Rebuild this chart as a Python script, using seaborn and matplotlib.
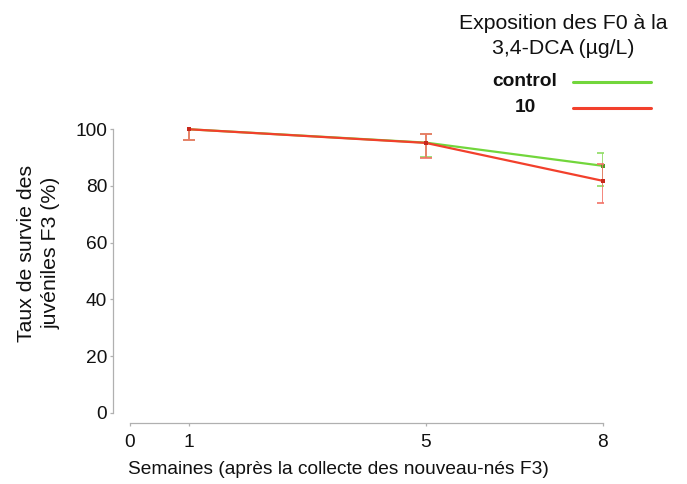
import matplotlib
matplotlib.use("Agg")
import matplotlib.pyplot as plt
from matplotlib.lines import Line2D
import numpy as np
import pandas as pd
import seaborn as sns

# Survival of F3 juveniles over weeks, by F0 exposure group
weeks = [1, 5, 8]
groups = ["control", "10"]
control_mean = [100.0, 95.3, 87.1]
control_err_low = [3.9, 5.2, 7.1]
control_err_high = [3.9, 3.2, 4.7]
dca10_mean = [100.0, 95.2, 81.8]
dca10_err_low = [3.9, 5.2, 7.9]
dca10_err_high = [3.9, 3.2, 5.8]

x_ticks = [0, 1, 5, 8]
y_ticks = [0, 20, 40, 60, 80, 100]

palette = {"control": "#72d63c", "10": "#f2402c"}
err_palette = {"control": "#8edc62", "10": "#f27266"}

df = pd.DataFrame({
    "week": weeks * 2,
    "survival": control_mean + dca10_mean,
    "group": ["control"] * len(weeks) + ["10"] * len(weeks),
})
errs = {
    "control": (control_mean, control_err_low, control_err_high),
    "10": (dca10_mean, dca10_err_low, dca10_err_high),
}

sns.set_theme(style="ticks")
plt.rcParams["font.family"] = ["Liberation Sans", "DejaVu Sans"]

fig = plt.figure(figsize=(6.87, 4.84), dpi=100)
ax = fig.add_axes([0.1892, 0.1473, 0.6885, 0.5856])

sns.lineplot(data=df, x="week", y="survival", hue="group",
             hue_order=groups, palette=palette, linewidth=1.6,
             marker="s", markersize=3, markeredgewidth=0,
             legend=False, ax=ax, zorder=3)
series_lines = list(ax.lines)
for ln in series_lines:
    ln.set_clip_on(False)
# keep the treated series above the control series
series_lines[1].set_zorder(5)
series_lines[1].set_markerfacecolor("#c8281c")
series_lines[0].set_markerfacecolor("#4f9e25")

# error bars are clipped at the top of the axis
for g in groups:
    mean, lo, hi = errs[g]
    ax.errorbar(weeks, mean, yerr=[lo, hi], fmt="none",
                ecolor=err_palette[g], elinewidth=1.2, capsize=4,
                capthick=1.2, zorder=2 if g == "control" else 4)

ax.set_xlim(0, 8)
ax.set_ylim(0, 100)
ax.set_xticks(x_ticks)
ax.set_yticks(y_ticks)
ax.set_xlabel("")
ax.set_ylabel("")

for side in ("top", "right"):
    ax.spines[side].set_visible(False)
ax.spines["left"].set_position(("outward", 12))
ax.spines["bottom"].set_position(("outward", 7.5))
for side in ("left", "bottom"):
    ax.spines[side].set_color("#b0b0b0")
    ax.spines[side].set_linewidth(0.9)
ax.tick_params(axis="both", length=2.5, width=0.9, color="#b0b0b0",
               labelsize=13.8, labelcolor="#111111", direction="out")
ax.tick_params(axis="x", pad=5)
ax.tick_params(axis="y", pad=2)

fig.text(39 / 687, 1 - 253 / 484, "Taux de survie des\njuvéniles F3 (%)",
         rotation=90, ha="center", va="center", fontsize=15.3,
         color="#111111", linespacing=1.35)
fig.text(338 / 687, 1 - 469 / 484, "Semaines (après la collecte des nouveau-nés F3)",
         ha="center", va="center", fontsize=13.8, color="#111111")

# legend block
fig.text(563 / 687, 1 - 36 / 484, "Exposition des F0 à la\n3,4-DCA (µg/L)",
         ha="center", va="center", fontsize=15.3, color="#111111",
         linespacing=1.45)
for g, ypx in zip(groups, [82, 108]):
    fig.text(525 / 687, 1 - ypx / 484, g, ha="center", va="center",
             fontsize=13.8, fontweight="bold", color="#111111")
    fig.add_artist(Line2D([573 / 687, 651 / 687], [1 - ypx / 484] * 2,
                          transform=fig.transFigure, color=palette[g],
                          linewidth=2.2))

fig.savefig("out.png", dpi=100)
